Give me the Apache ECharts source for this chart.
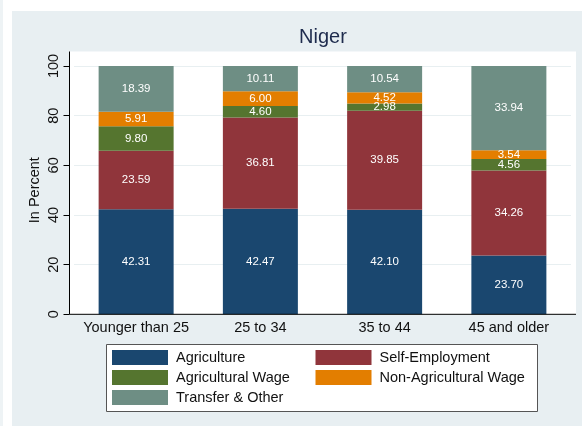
<!DOCTYPE html>
<html>
<head>
<meta charset="utf-8">
<script src="https://cdn.jsdelivr.net/npm/echarts@6/dist/echarts.min.js"></script>
<style>
  html, body { margin: 0; padding: 0; background: #fff; }
  #chart { width: 582px; height: 426px; }
</style>
</head>
<body>
<div id="chart"></div>
<script>
const categories = ['Younger than 25', '25 to 34', '35 to 44', '45 and older']
const agriculture = [42.31, 42.47, 42.10, 23.70]
const selfEmployment = [23.59, 36.81, 39.85, 34.26]
const agriWage = [9.80, 4.60, 2.98, 4.56]
const nonAgriWage = [5.91, 6.00, 4.52, 3.54]
const transferOther = [18.39, 10.11, 10.54, 33.94]
const yTicks = [0, 20, 40, 60, 80, 100]

const font = "'Liberation Sans', Arial, sans-serif"

let makeSeries = function (name, values, color) {
  return {
    name: name,
    type: 'bar',
    stack: 'total',
    barWidth: 75,
    itemStyle: {color: color},
    label: {
      show: true,
      position: 'inside',
      color: '#fff',
      fontFamily: font,
      fontSize: 11.5,
      formatter: function (p) {
        return p.value.toFixed(2)
      }
    },
    data: values
  }
}

let seriesA = [
  makeSeries('Agriculture', agriculture, '#1a476f'),
  makeSeries('Self-Employment', selfEmployment, '#90353b'),
  makeSeries('Agricultural Wage', agriWage, '#55752f'),
  makeSeries('Non-Agricultural Wage', nonAgriWage, '#e37e00'),
  makeSeries('Transfer & Other', transferOther, '#6e8e84')
]

let legendBase = {
  orient: 'vertical',
  icon: 'rect',
  itemWidth: 56,
  itemHeight: 15,
  itemGap: 5,
  padding: 0,
  selectedMode: false,
  textStyle: {fontFamily: font, fontSize: 14.5, color: '#111', padding: [0, 0, 0, 3]}
}

let option = {
  animation: false,
  backgroundColor: '#fff',
  textStyle: {fontFamily: font},
  title: {
    text: 'Niger',
    left: 318,
    top: 22,
    textAlign: 'center',
    textStyle: {fontFamily: font, fontSize: 20, fontWeight: 'normal', color: '#1e2b4d'}
  },
  graphic: [
    // outer grey panel
    {type: 'rect', z: -20, shape: {x: 0, y: 0, width: 3, height: 426}, style: {fill: '#eef3f5'}},
    {type: 'rect', z: -20, shape: {x: 12, y: 11, width: 570, height: 415}, style: {fill: '#e8eff2'}},
    // plot region
    {type: 'rect', z: -10, shape: {x: 69.5, y: 51.5, width: 506.5, height: 262.8}, style: {fill: '#fff'}},
    // axis lines
    {
      type: 'polyline', z: 100,
      shape: {points: [[69.5, 51.5], [69.5, 314.3], [576, 314.3]]},
      style: {stroke: '#000', lineWidth: 1, fill: null}
    },
    // legend box
    {
      type: 'rect', z: 0,
      shape: {x: 106.5, y: 344.5, width: 431, height: 67},
      style: {fill: '#fff', stroke: '#555', lineWidth: 1}
    }
  ],
  legend: [
    Object.assign({}, legendBase, {
      left: 112, top: 350,
      data: ['Agriculture', 'Agricultural Wage', 'Transfer & Other']
    }),
    Object.assign({}, legendBase, {
      left: 315.5, top: 350,
      data: ['Self-Employment', 'Non-Agricultural Wage']
    })
  ],
  grid: {left: 74, right: 11, top: 66, bottom: 111.7},
  xAxis: {
    type: 'category',
    data: categories,
    axisLine: {show: false},
    axisTick: {show: false},
    axisLabel: {interval: 0, margin: 6, color: '#111', fontFamily: font, fontSize: 14.5}
  },
  yAxis: {
    type: 'value',
    min: 0,
    max: 100,
    interval: 20,
    offset: 4.5,
    name: 'In Percent',
    nameLocation: 'middle',
    nameGap: 27,
    nameMoveOverlap: false,
    nameTextStyle: {color: '#111', fontFamily: font, fontSize: 14.5},
    axisLine: {show: false},
    axisTick: {show: true, length: 6, lineStyle: {color: '#000'}, customValues: yTicks},
    axisLabel: {rotate: 90, margin: 8, color: '#111', fontFamily: font, fontSize: 14.5, customValues: yTicks},
    splitLine: {show: true, lineStyle: {color: '#e8eff1', width: 1}}
  },
  series: seriesA
}

const initCharts = () => {
  let chart = echarts.init(document.getElementById('chart'))
  chart.setOption(option)
}
initCharts()
</script>
</body>
</html>
